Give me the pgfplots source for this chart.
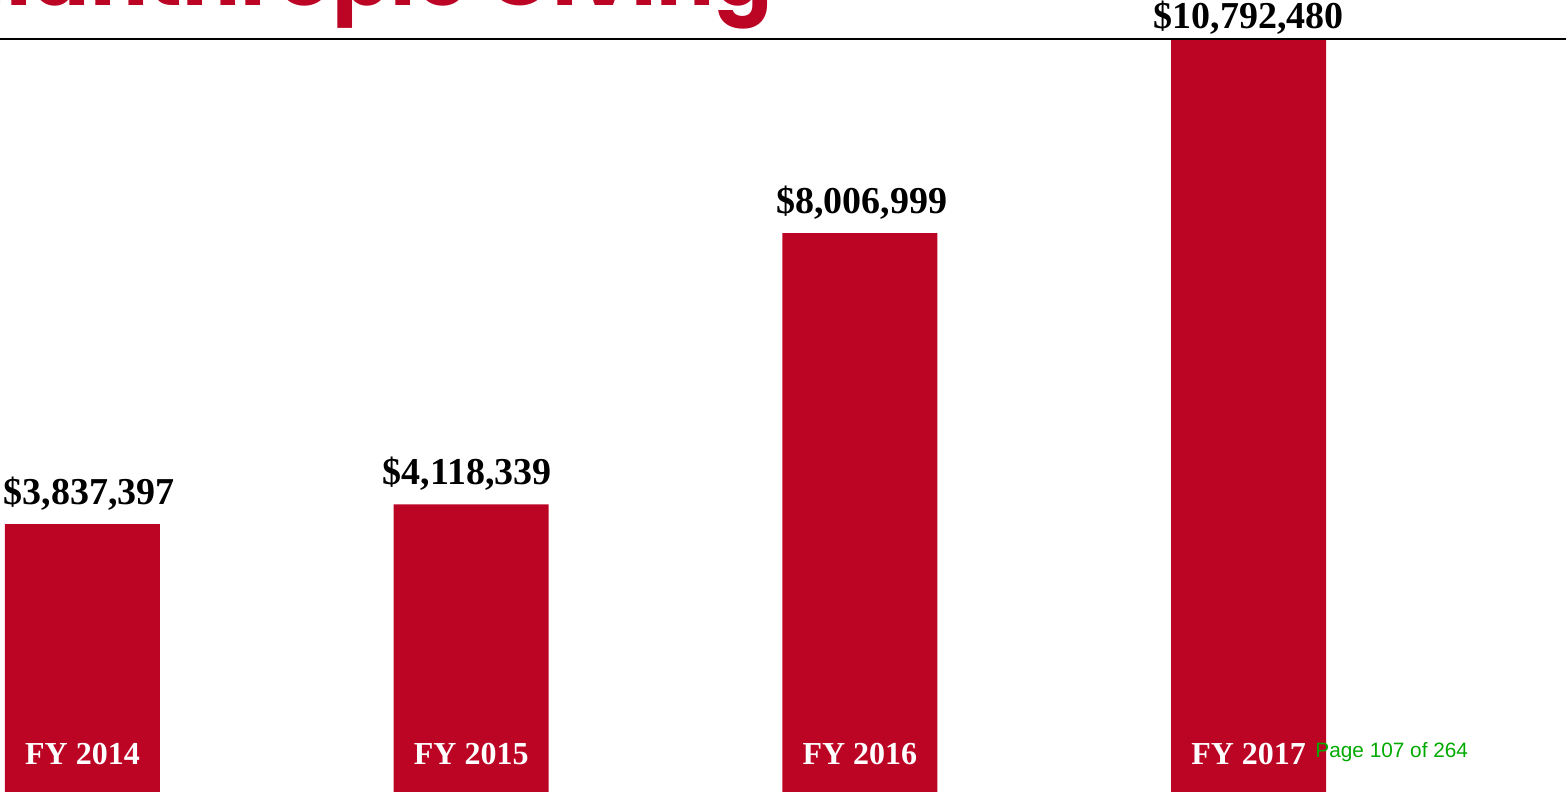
\documentclass[border=0pt]{standalone}
\usepackage{fontspec}
\setmainfont{Liberation Serif}
\newfontfamily\pagefont{Liberation Sans}
\newfontfamily\titlefont{Poppins}
\usepackage{pgfplots}
\pgfplotsset{compat=1.18}
\usepackage{pgfplotstable}
\definecolor{barred}{RGB}{188,5,36}
\definecolor{pagegreen}{RGB}{0,170,0}

% x, amount, label, label offsets (pt)
\pgfplotstableread{
x y lab off xoff
0 3837397 3,837,397 10 3.5
1 4118339 4,118,339 10 -2
2 8006999 8,006,999 10 1
3 10792480 10,792,480 5 0
}\giving

\begin{document}
\begin{tikzpicture}
\clip (0,0) rectangle (783pt,396.5pt);
\node[anchor=base east, text=barred, font=\titlefont\bfseries\fontsize{43}{46}\selectfont]
  at (390pt,393.5pt) {Philanthropic Giving};
\begin{axis}[
    at={(0,0)}, anchor=south west,
    scale only axis,
    width=783pt, height=396.5pt,
    xmin=-0.2122, xmax=3.8166,
    ymin=-15000, ymax=11345000,
    axis line style={draw=none},
    xtick=\empty, ytick=\empty,
    clip=false,
]
\addplot[ybar, bar width=77.5pt, bar shift=0pt, fill=barred, draw=none,
    nodes near coords={\$\pgfplotspointmeta},
    point meta=explicit symbolic,
    visualization depends on={\thisrow{off} \as \myoff},
    visualization depends on={\thisrow{xoff} \as \myxoff},
    nodes near coords style={anchor=base, yshift=\myoff pt, xshift=\myxoff pt, inner sep=0pt,
        font=\bfseries\fontsize{19}{21}\selectfont, text=black},
] table[x=x, y=y, meta=lab] {\giving};
\addplot[draw=none, mark=none,
    nodes near coords={FY \pgfplotspointmeta},
    point meta=explicit symbolic,
    nodes near coords style={anchor=base, yshift=13.5pt, inner sep=0pt,
        font=\bfseries\fontsize{16}{18}\selectfont, text=white},
] table[x=x, y expr=0, meta=yr] {
x yr
0 2014
1 2015
2 2016
3 2017
};
\draw[line width=1pt] (rel axis cs:0,0.9508) -- (rel axis cs:1,0.9508);
\end{axis}
\node[anchor=base west, text=pagegreen, inner sep=0pt, font=\pagefont\fontsize{10.4}{12}\selectfont]
  at (657.5pt,17.8pt) {Page 107 of 264};
\end{tikzpicture}
\end{document}
